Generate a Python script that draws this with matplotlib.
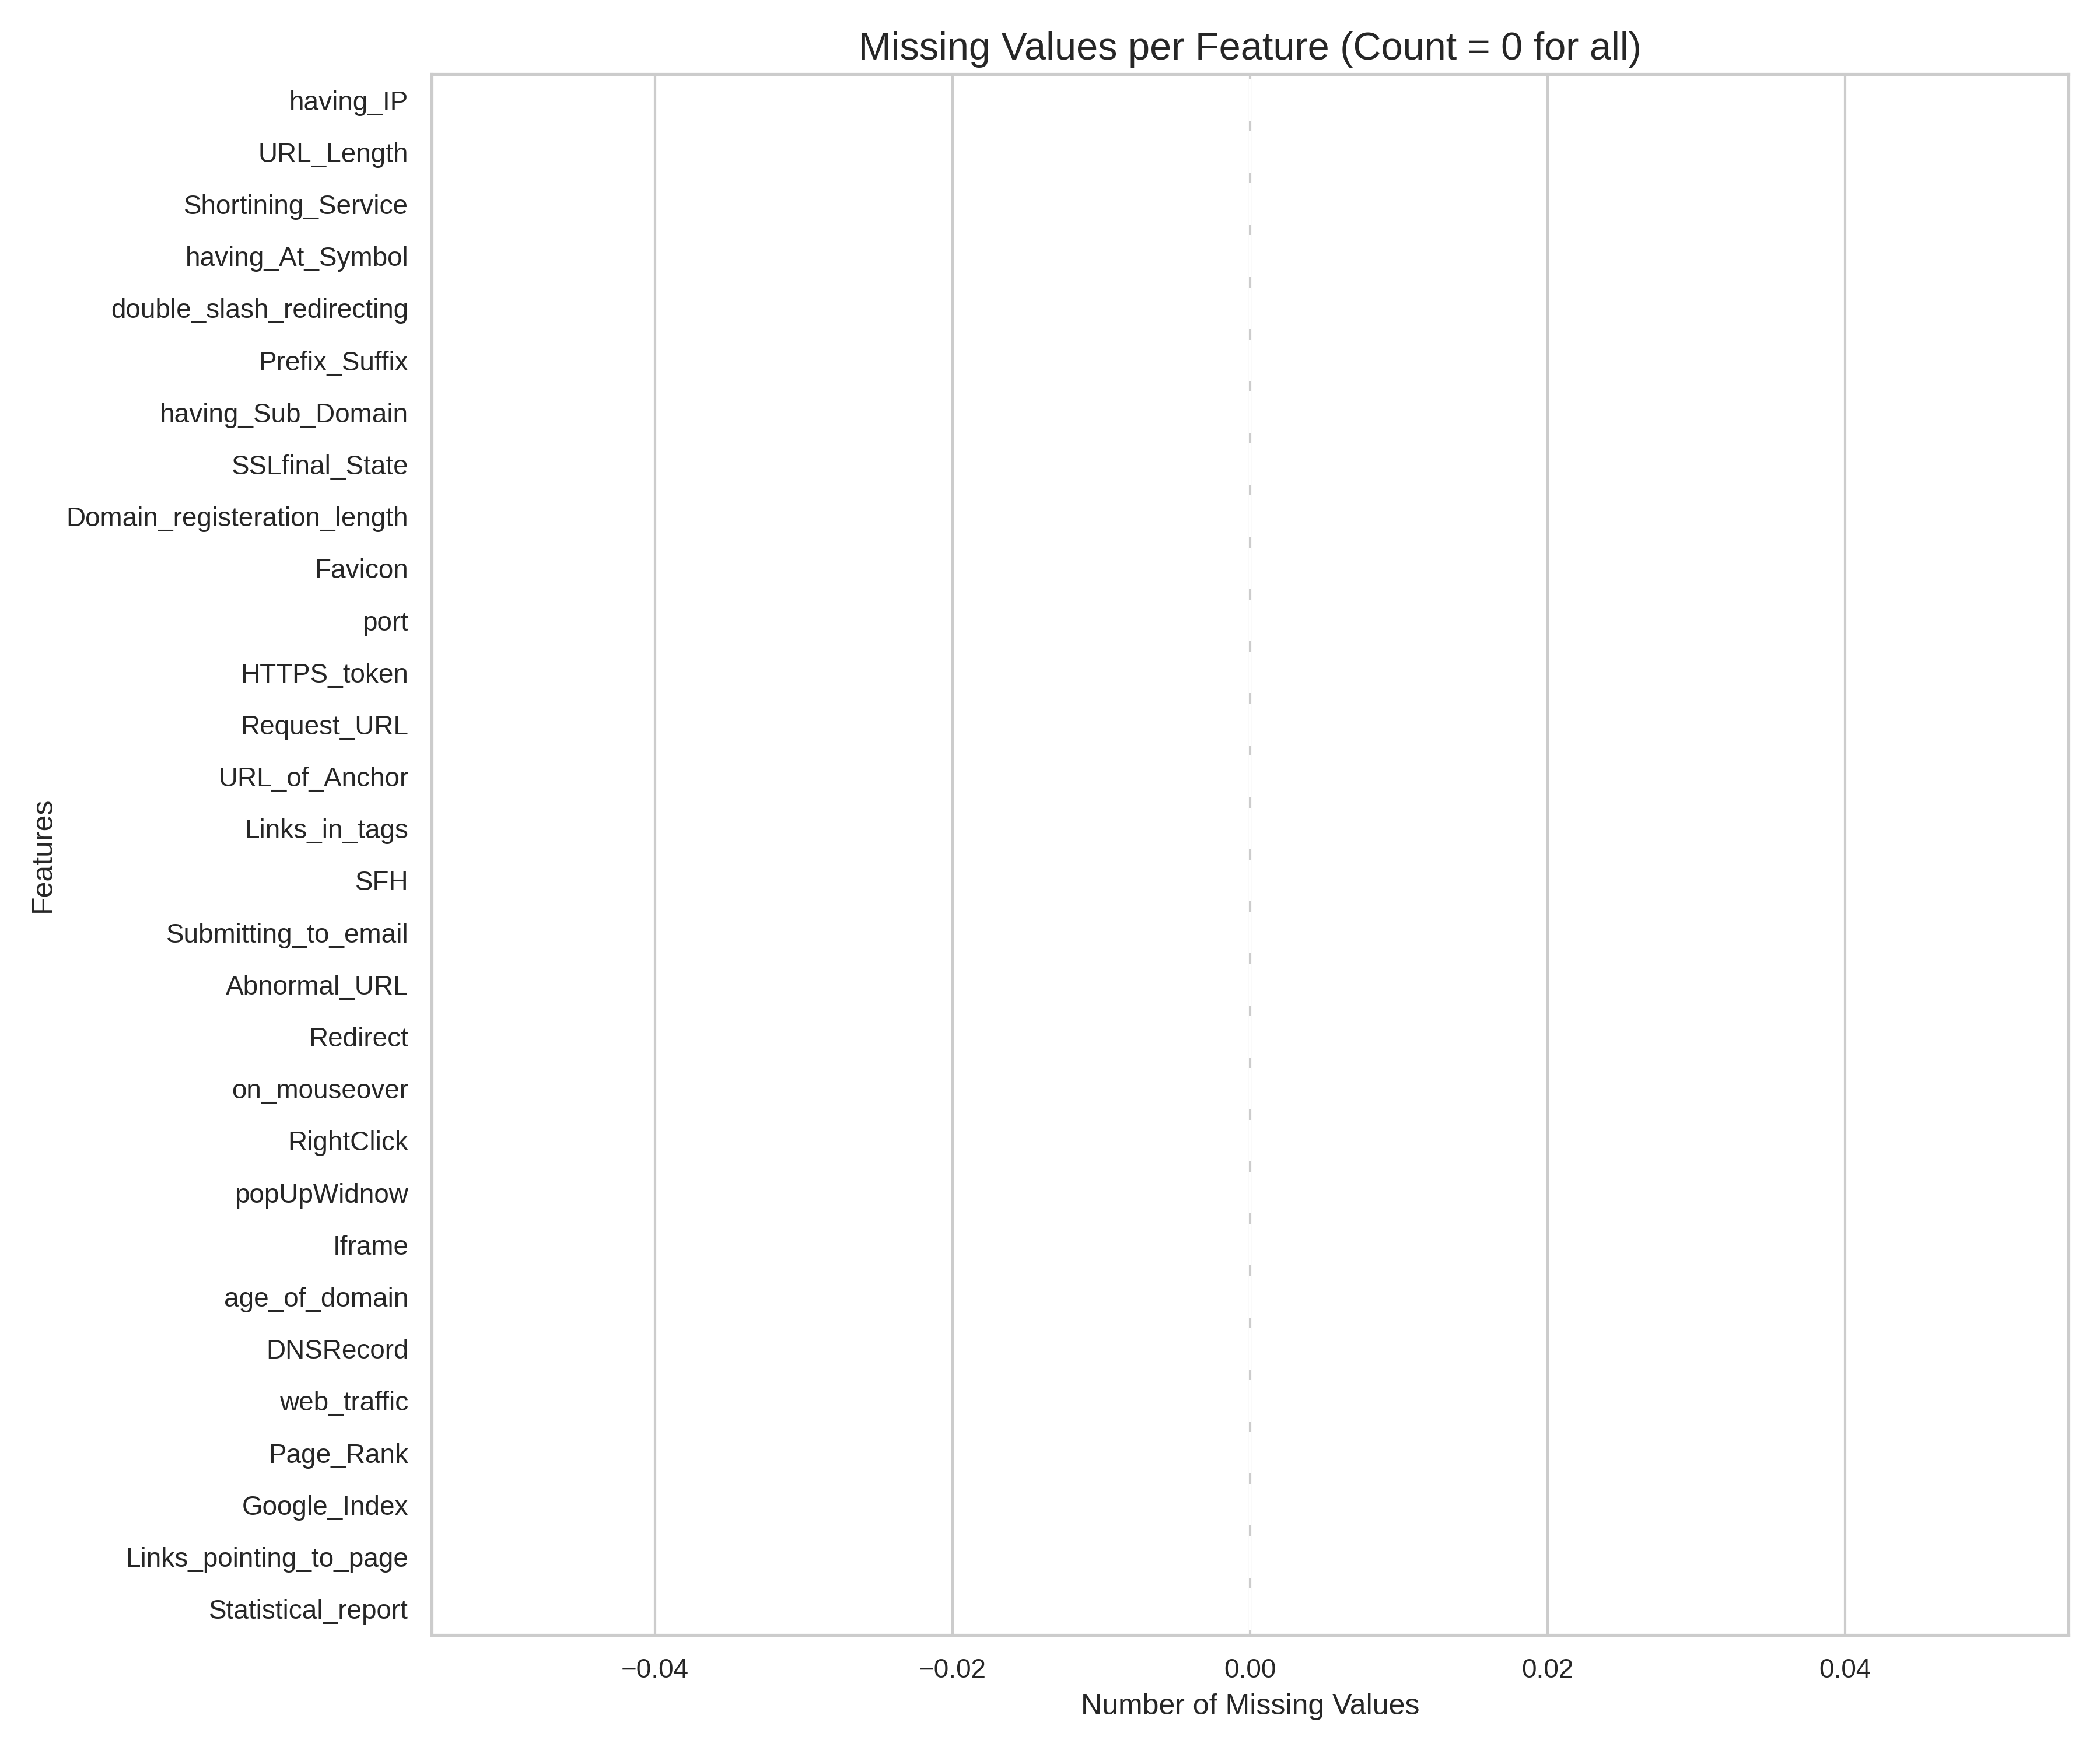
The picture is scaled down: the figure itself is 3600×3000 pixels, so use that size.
import matplotlib
matplotlib.use("Agg")
import matplotlib.pyplot as plt
import seaborn as sns
import pandas as pd

# ---------- Data ----------
features = [
    "having_IP", "URL_Length", "Shortining_Service", "having_At_Symbol",
    "double_slash_redirecting", "Prefix_Suffix", "having_Sub_Domain",
    "SSLfinal_State", "Domain_registeration_length", "Favicon", "port",
    "HTTPS_token", "Request_URL", "URL_of_Anchor", "Links_in_tags", "SFH",
    "Submitting_to_email", "Abnormal_URL", "Redirect", "on_mouseover",
    "RightClick", "popUpWidnow", "Iframe", "age_of_domain", "DNSRecord",
    "web_traffic", "Page_Rank", "Google_Index", "Links_pointing_to_page",
    "Statistical_report",
]
missing_counts = [0] * len(features)

df = pd.DataFrame({"Feature": features, "Missing": missing_counts})

# ---------- Plot ----------
sns.set_theme(style="whitegrid")
plt.rcParams["font.family"] = ["Arial", "Liberation Sans", "DejaVu Sans"]

fig, ax = plt.subplots(figsize=(12, 10))
sns.barplot(data=df, x="Missing", y="Feature", orient="h", color="#4c72b0", ax=ax)
ax.set_title("Missing Values per Feature (Count = 0 for all)", fontsize=16)
ax.set_xlabel("Number of Missing Values", fontsize=12)
ax.set_ylabel("Features", fontsize=12)
ax.set_xlim(-0.055, 0.055)
ax.tick_params(axis="both", labelsize=11)

plt.tight_layout()
plt.savefig("out.png", dpi=300)
plt.close()
